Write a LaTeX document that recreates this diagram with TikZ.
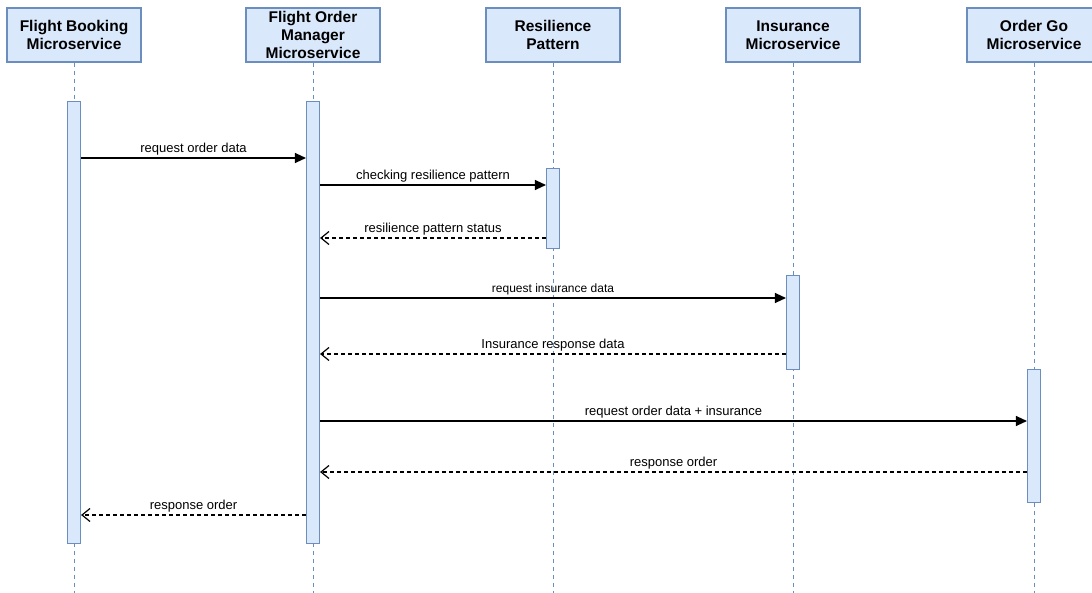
\documentclass[tikz,border=0pt]{standalone}
\usepackage{fontspec}
\setmainfont{Liberation Sans}
\usetikzlibrary{arrows.meta}
\definecolor{boxfill}{HTML}{DAE8FC}
\definecolor{boxline}{HTML}{6C8EBF}
\tikzset{
  head/.style={draw=boxline, fill=boxfill, line width=1.1pt, minimum width=134pt, minimum height=54pt,
    inner sep=0pt, align=center, font=\fontsize{15.5}{18}\selectfont\bfseries, text=black},
  bar/.style={draw=boxline, fill=boxfill, line width=1.1pt, minimum width=13pt, inner sep=0pt, anchor=north},
  life/.style={draw=boxline, line width=1pt, dash pattern=on 4pt off 4pt},
  call/.style={line width=1.2pt, -{Triangle[length=11pt,width=10pt]}},
  ret/.style={line width=1.2pt, dash pattern=on 4pt off 3pt, -{Straight Barb[length=8pt,width=13pt,line width=1.2pt]}},
  lab/.style={font=\fontsize{13}{15}\selectfont, above=1pt, midway, inner sep=1pt},
  labs/.style={font=\fontsize{12}{14}\selectfont, above=1pt, midway, inner sep=1pt}
}
\begin{document}
\begin{tikzpicture}[x=1pt,y=-1pt]
\useasboundingbox (0,0) rectangle (1092,593);
% headers
\node[head] (h1) at (74,35) {Flight Booking\\Microservice};
\node[head] (h2) at (313,35) {Flight Order\\Manager\\Microservice};
\node[head] (h3) at (553,35) {Resilience\\Pattern};
\node[head] (h4) at (793,35) {Insurance\\Microservice};
\node[head] (h5) at (1034,35) {Order Go\\Microservice};
% lifeline ends
\coordinate (e1) at (74,593);
\coordinate (e2) at (313,593);
\coordinate (e3) at (553,593);
\coordinate (e4) at (793,593);
\coordinate (e5) at (1034,593);
\foreach \i in {1,...,5} \draw[life] (h\i.south) -- (e\i);
% activation bars
\node[bar, minimum height=442pt] (b1) at (74,101) {};
\node[bar, minimum height=442pt] (b2) at (313,101) {};
\node[bar, minimum height=80pt] (b3) at (553,168) {};
\node[bar, minimum height=94pt] (b4) at (793,275) {};
\node[bar, minimum height=133pt] (b5) at (1034,369) {};
% messages
\draw[call] (b1.east |- 0,158) -- (b2.west |- 0,158) node[lab] {request order data};
\draw[call] (b2.east |- 0,185) -- (b3.west |- 0,185) node[lab] {checking resilience pattern};
\draw[ret] (b3.west |- 0,238) -- (b2.east |- 0,238) node[lab] {resilience pattern status};
\draw[call] (b2.east |- 0,298) -- (b4.west |- 0,298) node[labs] {request insurance data};
\draw[ret] (b4.west |- 0,354) -- (b2.east |- 0,354) node[lab] {Insurance response data};
\draw[call] (b2.east |- 0,421) -- (b5.west |- 0,421) node[lab] {request order data + insurance};
\draw[ret] (b5.west |- 0,472) -- (b2.east |- 0,472) node[lab] {response order};
\draw[ret] (b2.west |- 0,515) -- (b1.east |- 0,515) node[lab] {response order};
\end{tikzpicture}
\end{document}
